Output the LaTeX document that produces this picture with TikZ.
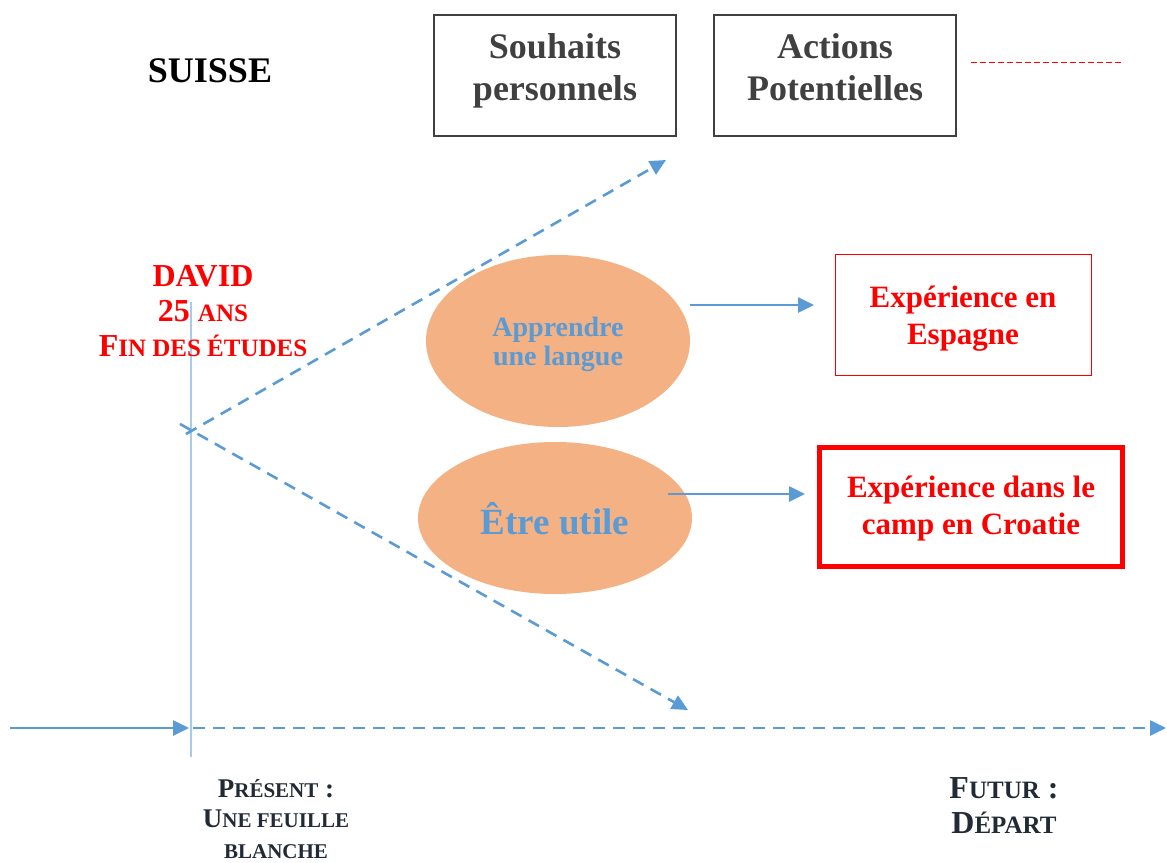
\documentclass[tikz,border=0pt]{standalone}
\usepackage{fontspec}
\setmainfont{Liberation Serif}
\usetikzlibrary{arrows.meta,shapes.geometric}
\definecolor{cblue}{HTML}{5B9BD5}
\definecolor{clight}{HTML}{A9CBEA}
\definecolor{corange}{HTML}{F4B183}
\definecolor{cgray}{HTML}{404040}
\definecolor{cnavy}{HTML}{222A35}
\definecolor{cred}{HTML}{FF0000}
\newcommand\fsz[2]{\fontsize{#1}{#2}\selectfont}
\begin{document}
\begin{tikzpicture}[x=1pt,y=-1pt,
  bluedash/.style={cblue,line width=2.6pt,dash pattern=on 12pt off 8pt,-{Triangle[length=16pt,width=15pt]}},
  bluesolid/.style={cblue,line width=2.6pt,-{Triangle[length=16pt,width=15pt]}},
  topbox/.style={draw=cgray,line width=2pt,minimum width=242pt,minimum height=121pt,inner sep=0pt},
  toptext/.style={text=cgray,font=\bfseries\fsz{36}{42},align=center,inner sep=0pt},
  oval/.style={ellipse,fill=corange,draw=none,inner sep=0pt},
  ovaltext/.style={text=cblue,align=center,inner sep=0pt},
  redbox/.style={draw=cred,inner sep=0pt},
  redtext/.style={text=cred,align=center,inner sep=0pt,font=\bfseries\fsz{31}{37}},
  lbl/.style={align=center,inner sep=0pt}]
\useasboundingbox (0,0) rectangle (1167,862);

% coordinates
\coordinate (o1) at (186,434);
\coordinate (o2) at (180,424);
\coordinate (t1) at (666,160);
\coordinate (t2) at (688,710);
\coordinate (axs) at (10,728);
\coordinate (axm) at (189,728);
\coordinate (axn) at (193,728);
\coordinate (axe) at (1166,728);
\coordinate (vt) at (191,302);
\coordinate (vb) at (191,757);

% vertical present line
\draw[clight,line width=1.8pt] (vt) -- (vb);

% dashed fan lines
\draw[bluedash] (o1) -- (t1);
\draw[bluedash] (o2) -- (t2);

% time axis
\draw[bluesolid] (axs) -- (axm);
\draw[bluedash] (axn) -- (axe);

% top boxes
\node[topbox] (souh) at (555,75) {};
\node[toptext] (souht) at (555,70.6) {\strut Souhaits\\personnels\strut};
\node[topbox] (act) at (835,75) {};
\node[toptext] (actt) at (835,70.6) {\strut Actions\\Potentielles\strut};
\coordinate (rd1) at (971,62);
\coordinate (rd2) at (1123,62);
\draw[cred,line width=1pt,dash pattern=on 6pt off 3pt] (rd1) -- (rd2);

% SUISSE
\node[lbl,font=\bfseries\fsz{36}{40}] (suisse) at (210,71) {SUISSE};

% DAVID
\node[lbl,text=cred,font=\bfseries\fsz{32}{35}] (david) at (203,311)
  {DAVID\\25 {\fsz{25}{35}ANS}\\F{\fsz{25}{35}IN DES ÉTUDES}};

% ellipses
\node[oval,minimum width=264pt,minimum height=172pt] (appr) at (558,341) {};
\node[ovaltext,font=\bfseries\fsz{28}{29}] (apprt) at (558,344.7) {\strut Apprendre\\une langue\strut};
\node[oval,minimum width=274pt,minimum height=152pt] (etre) at (555,518) {};
\node[ovaltext,font=\bfseries\fsz{37}{40}] (etret) at (555,524) {\strut Être utile};

% red boxes
\node[redbox,line width=1pt,minimum width=256pt,minimum height=121pt] (esp) at (963,315) {};
\node[redtext] (espt) at (963,319) {\strut Expérience en\\Espagne\strut};
\node[redbox,line width=5pt,minimum width=303pt,minimum height=119pt] (cro) at (971,507) {};
\node[redtext] (crot) at (971,509) {\strut Expérience dans le\\camp en Croatie\strut};

% arrows to red boxes
\coordinate (a1s) at (690,305);
\coordinate (a1e) at (814,305);
\coordinate (a2s) at (668,494);
\coordinate (a2e) at (805,494);
\draw[bluesolid] (a1s) -- (a1e);
\draw[bluesolid] (a2s) -- (a2e);

% bottom labels
\node[lbl,text=cnavy,font=\bfseries\fsz{27}{30.5}] (pres) at (276,819)
  {P{\fsz{21}{30.5}RÉSENT} :\\U{\fsz{21}{30.5}NE FEUILLE}\\{\fsz{21}{30.5}BLANCHE}};
\node[lbl,text=cnavy,font=\bfseries\fsz{32}{35}] (fut) at (1004,806)
  {F{\fsz{25}{35}UTUR} :\\D{\fsz{25}{35}ÉPART}};
\end{tikzpicture}
\end{document}
